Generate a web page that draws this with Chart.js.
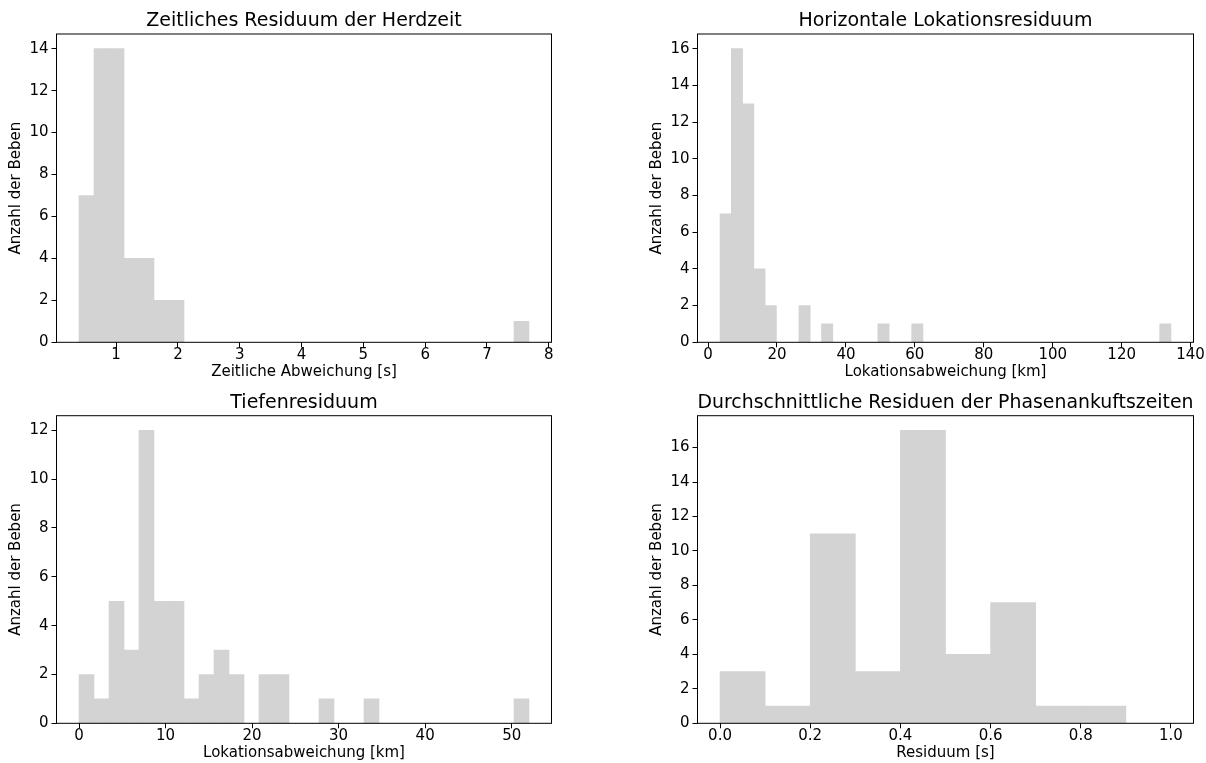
<!DOCTYPE html>
<html>
<head>
<meta charset="utf-8">
<script src="https://cdn.jsdelivr.net/npm/chart.js@4.4.0/dist/chart.umd.min.js"></script>
<style>
  body { margin: 0; background: #fff; width: 1206px; height: 763px; overflow: hidden; position: relative; }
  canvas { position: absolute; left: 0; top: 0; }
</style>
</head>
<body>
<canvas id="herdzeit" width="1206" height="763"></canvas>
<canvas id="horizontal" width="1206" height="763"></canvas>
<canvas id="tiefe" width="1206" height="763"></canvas>
<canvas id="phasen" width="1206" height="763"></canvas>
<script>
// Histogramme: Bereich [von, bis] der Klassen und Anzahl pro Klasse
const herdzeitBereich = [0.40, 7.68];
const herdzeitAnzahl = [7, 14, 14, 4, 4, 2, 2, 0, 0, 0,
                        0, 0, 0, 0, 0, 0, 0, 0, 0, 0,
                        0, 0, 0, 0, 0, 0, 0, 0, 0, 1];
const herdzeitTicksX = [1, 2, 3, 4, 5, 6, 7, 8];
const herdzeitTicksY = [0, 2, 4, 6, 8, 10, 12, 14];

const horizontalBereich = [3.48, 134.3];
const horizontalAnzahl = [7, 16, 13, 4, 2, 0, 0, 2, 0, 1,
                          0, 0, 0, 0, 1, 0, 0, 1, 0, 0,
                          0, 0, 0, 0, 0, 0, 0, 0, 0, 0,
                          0, 0, 0, 0, 0, 0, 0, 0, 0, 1];
const horizontalTicksX = [0, 20, 40, 60, 80, 100, 120, 140];
const horizontalTicksY = [0, 2, 4, 6, 8, 10, 12, 14, 16];

const tiefeBereich = [0, 52];
const tiefeAnzahl = [2, 1, 5, 3, 12, 5, 5, 1, 2, 3,
                     2, 0, 2, 2, 0, 0, 1, 0, 0, 1,
                     0, 0, 0, 0, 0, 0, 0, 0, 0, 1];
const tiefeTicksX = [0, 10, 20, 30, 40, 50];
const tiefeTicksY = [0, 2, 4, 6, 8, 10, 12];

const phasenBereich = [0, 1];
const phasenAnzahl = [3, 1, 11, 3, 17, 4, 7, 1, 1, 0];
const phasenTicksX = [0, 0.2, 0.4, 0.6, 0.8, 1.0];
const phasenTicksY = [0, 2, 4, 6, 8, 10, 12, 14, 16];

Chart.defaults.font.family = "'DejaVu Sans', sans-serif";
Chart.defaults.color = '#000';

const Y_BREITE = 56.5;
const X_HOEHE = 39.7;
const TITEL_HOEHE = 34;

const rahmen = {
  id: 'rahmen',
  afterDraw(chart) {
    const { ctx, chartArea: a } = chart;
    ctx.save();
    ctx.strokeStyle = '#000';
    ctx.lineWidth = 1;
    ctx.strokeRect(a.left, a.top, a.right - a.left, a.bottom - a.top);
    ctx.restore();
  }
};

const histogramm = (id, titel, xTitel, bereich, anzahl, ticksX, ticksY, box, format) => {
  const breite = (bereich[1] - bereich[0]) / anzahl.length;
  const punkte = anzahl.map((n, i) => ({ x: bereich[0] + (i + 0.5) * breite, y: n }));
  const rand = 0.05 * (bereich[1] - bereich[0]);

  new Chart(document.getElementById(id), {
    type: 'bar',
    data: {
      datasets: [{
        data: punkte,
        backgroundColor: '#d3d3d3',
        borderWidth: 0,
        barPercentage: 1,
        categoryPercentage: 1
      }]
    },
    options: {
      responsive: false,
      animation: false,
      layout: {
        autoPadding: false,
        padding: {
          left: box.left - Y_BREITE,
          right: 1206 - box.right,
          top: box.top - TITEL_HOEHE,
          bottom: 763 - box.bottom - X_HOEHE
        }
      },
      plugins: {
        legend: { display: false },
        tooltip: { enabled: false },
        title: {
          display: true,
          text: titel,
          fullSize: false,
          color: '#000',
          font: { size: 19, weight: 'normal' },
          padding: { top: 9.6, bottom: 1.6 }
        }
      },
      scales: {
        x: {
          type: 'linear',
          offset: false,
          min: bereich[0] - rand,
          max: bereich[1] + rand,
          afterBuildTicks: s => { s.ticks = ticksX.map(v => ({ value: v })); },
          afterFit: s => { s.height = X_HOEHE; },
          grid: { offset: false, drawOnChartArea: false, drawTicks: true, tickLength: 5, tickColor: '#000', tickWidth: 1 },
          border: { display: false },
          ticks: {
            autoSkip: false,
            maxRotation: 0,
            padding: 0,
            font: { size: 15, lineHeight: 1 },
            callback: v => format(v)
          },
          title: {
            display: true,
            text: xTitel,
            font: { size: 15 },
            padding: { top: 0, bottom: 0.8 }
          }
        },
        y: {
          min: 0,
          max: Math.max(...anzahl) * 1.05,
          afterBuildTicks: s => { s.ticks = ticksY.map(v => ({ value: v })); },
          afterFit: s => { s.width = Y_BREITE; },
          grid: { drawOnChartArea: false, drawTicks: true, tickLength: 5, tickColor: '#000', tickWidth: 1 },
          border: { display: false },
          ticks: {
            autoSkip: false,
            padding: 3,
            font: { size: 15 },
            callback: v => String(v)
          },
          title: {
            display: true,
            text: 'Anzahl der Beben',
            font: { size: 15 },
            padding: { top: 7, bottom: 0 }
          }
        }
      }
    },
    plugins: [rahmen]
  });
};

const links = { left: 56.5, right: 551.5 };
const rechts = { left: 697.5, right: 1193.5 };
const oben = { top: 34, bottom: 342.3 };
const unten = { top: 415.7, bottom: 723.3 };

histogramm('herdzeit', 'Zeitliches Residuum der Herdzeit', 'Zeitliche Abweichung [s]',
  herdzeitBereich, herdzeitAnzahl, herdzeitTicksX, herdzeitTicksY,
  { ...links, ...oben }, v => String(v));

histogramm('horizontal', 'Horizontale Lokationsresiduum', 'Lokationsabweichung [km]',
  horizontalBereich, horizontalAnzahl, horizontalTicksX, horizontalTicksY,
  { ...rechts, ...oben }, v => String(v));

histogramm('tiefe', 'Tiefenresiduum', 'Lokationsabweichung [km]',
  tiefeBereich, tiefeAnzahl, tiefeTicksX, tiefeTicksY,
  { ...links, ...unten }, v => String(v));

histogramm('phasen', 'Durchschnittliche Residuen der Phasenankuftszeiten', 'Residuum [s]',
  phasenBereich, phasenAnzahl, phasenTicksX, phasenTicksY,
  { ...rechts, ...unten }, v => v.toFixed(1));
</script>
</body>
</html>
